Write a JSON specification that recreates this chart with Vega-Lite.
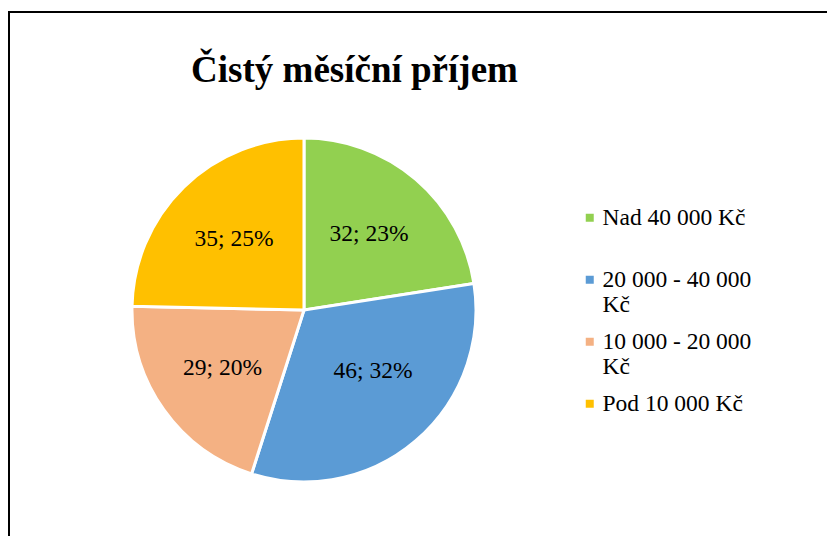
{
  "$schema": "https://vega.github.io/schema/vega-lite/v6.json",
  "width": 821,
  "height": 527,
  "padding": {"left": 9, "top": 12, "right": 0, "bottom": 0},
  "background": "white",
  "config": {"view": {"stroke": "#000000", "strokeWidth": 2}},
  "title": {
    "text": "Čistý měsíční příjem",
    "font": "Liberation Serif",
    "fontSize": 37,
    "fontWeight": "bold",
    "color": "#000000",
    "anchor": "middle",
    "frame": "group",
    "baseline": "alphabetic",
    "offset": -107,
    "dx": -65
  },
  "data": {
    "values": [
      {"cat": "Nad 40 000 Kč", "value": 32, "label": "32; 23%", "ord": 1},
      {"cat": "20 000 - 40 000 Kč", "value": 46, "label": "46; 32%", "ord": 2},
      {"cat": "10 000 - 20 000 Kč", "value": 29, "label": "29; 20%", "ord": 3},
      {"cat": "Pod 10 000 Kč", "value": 35, "label": "35; 25%", "ord": 4}
    ]
  },
  "encoding": {
    "theta": {"field": "value", "type": "quantitative", "stack": true},
    "order": {"field": "ord", "type": "quantitative"},
    "x": {"datum": 0.3593, "type": "quantitative", "scale": {"domain": [0, 1]}, "axis": null},
    "y": {"datum": 0.4345, "type": "quantitative", "scale": {"domain": [0, 1]}, "axis": null}
  },
  "layer": [
    {
      "mark": {
        "type": "arc",
        "outerRadius": 172,
        "stroke": "white",
        "strokeWidth": 3
      },
      "encoding": {
        "color": {
          "field": "cat",
          "type": "nominal",
          "sort": null,
          "scale": {
            "domain": ["Nad 40 000 Kč", "20 000 - 40 000 Kč", "10 000 - 20 000 Kč", "Pod 10 000 Kč"],
            "range": ["#92D050", "#5B9BD5", "#F4B183", "#FFC000"]
          },
          "legend": {
            "title": null,
            "orient": "none",
            "legendX": 569,
            "legendY": 194,
            "symbolType": "square",
            "symbolSize": 64,
            "symbolStrokeWidth": 0,
            "labelFont": "Liberation Serif",
            "labelFontSize": 23.5,
            "labelColor": "#000000",
            "labelLimit": 300,
            "rowPadding": 12,
            "labelOffset": 1,
            "padding": 0,
            "labelExpr": "datum.label == '20 000 - 40 000 Kč' ? ['20 000 - 40 000', 'Kč'] : datum.label == '10 000 - 20 000 Kč' ? ['10 000 - 20 000', 'Kč'] : datum.label == 'Nad 40 000 Kč' ? ['Nad 40 000 Kč', ' '] : datum.label"
          }
        }
      }
    },
    {
      "mark": {
        "type": "text",
        "radius": 100,
        "font": "Liberation Serif",
        "fontSize": 23.5,
        "color": "#000000",
        "dx": {"expr": "datum.ord == 2 ? 4 : 0"},
        "dy": {"expr": "datum.ord == 2 ? -15 : 0"}
      },
      "encoding": {
        "text": {"field": "label"}
      }
    }
  ]
}
